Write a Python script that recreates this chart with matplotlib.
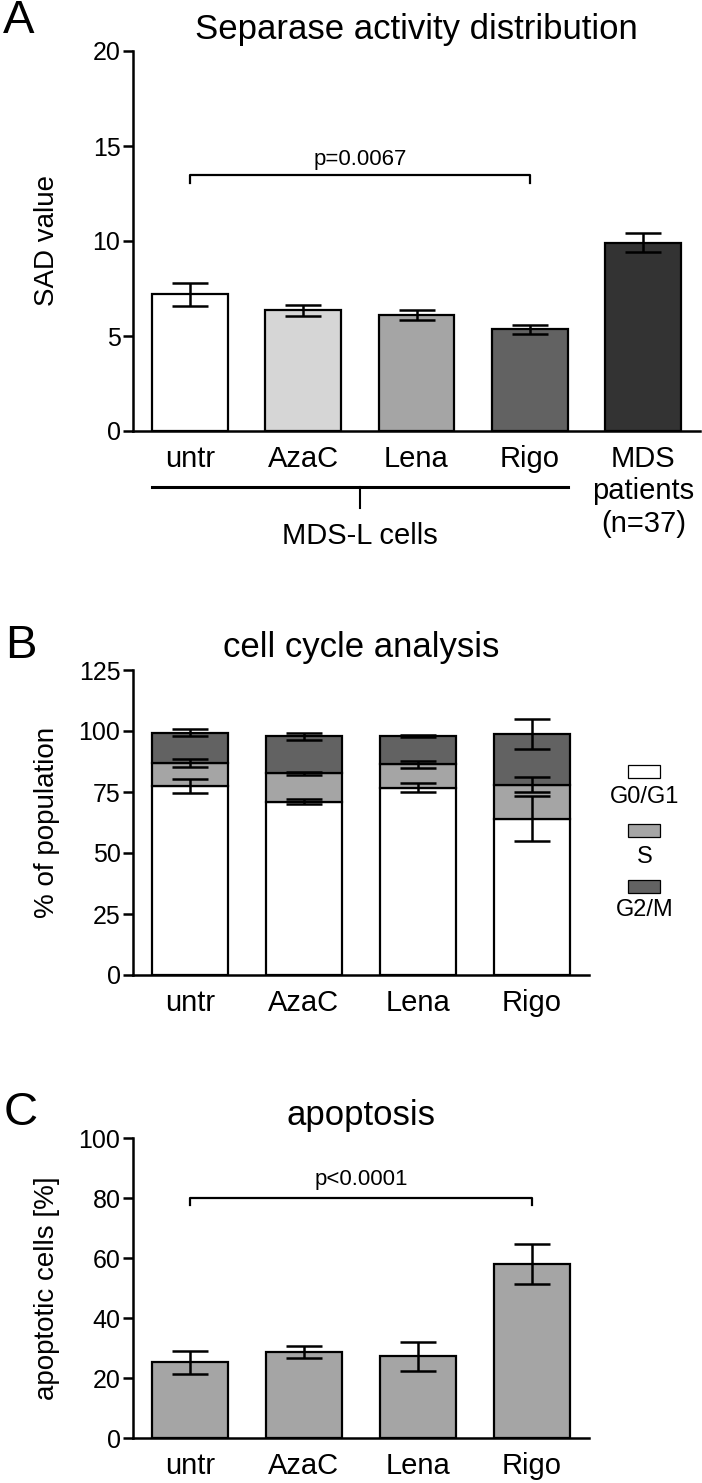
import matplotlib
matplotlib.use("Agg")
import matplotlib.pyplot as plt
from matplotlib.patches import Rectangle
from matplotlib.lines import Line2D
import matplotlib.transforms as mtransforms

plt.rcParams['font.family'] = ['Liberation Sans', 'DejaVu Sans']

# ---------------- data ----------------
sad_labels = ["untr", "AzaC", "Lena", "Rigo", "MDS\npatients\n(n=37)"]
sad_values = [7.2, 6.35, 6.1, 5.35, 9.9]
sad_errors = [0.6, 0.3, 0.27, 0.25, 0.5]
sad_colors = ["#ffffff", "#d6d6d6", "#a5a5a5", "#626262", "#333333"]

cc_labels = ["untr", "AzaC", "Lena", "Rigo"]
cc_g0g1 = [77.5, 71.1, 76.8, 64.1]
cc_s = [9.4, 11.5, 9.5, 13.9]
cc_g2m = [12.4, 15.2, 11.7, 20.7]
cc_g0g1_err = [2.9, 1.2, 1.8, 9.2]
cc_s_err = [1.8, 0.6, 1.4, 3.0]
cc_g2m_err = [1.5, 1.4, 0.3, 6.1]
cc_phases = ["G0/G1", "S", "G2/M"]
cc_colors = ["#ffffff", "#a5a5a5", "#626262"]

apo_labels = ["untr", "AzaC", "Lena", "Rigo"]
apo_values = [25.2, 28.6, 27.2, 58.1]
apo_errors = [3.8, 2.0, 4.7, 6.7]
apo_color = "#a5a5a5"

# ---------------- layout ----------------
W, H = 702, 1483
fig = plt.figure(figsize=(W / 100, H / 100), dpi=100)


def rect(l, t, r, b):
    return [l / W, 1 - b / H, (r - l) / W, (b - t) / H]


axA = fig.add_axes(rect(133, 51, 700, 431))
axB = fig.add_axes(rect(133, 670, 589, 975))
axC = fig.add_axes(rect(133, 1138, 589, 1438))

LW = 1.8
BAR_W = 0.67
ERR_KW = dict(fmt="none", ecolor="black", elinewidth=1.8, capsize=13, capthick=1.8, zorder=5)


def style(ax, ymax, yticks, ylabel, title, n, label_x):
    ax.set_xlim(-0.5, n - 0.5)
    ax.set_ylim(0, ymax)
    ax.set_yticks(yticks)
    for s in ("top", "right"):
        ax.spines[s].set_visible(False)
    for s in ("left", "bottom"):
        ax.spines[s].set_linewidth(LW)
    ax.tick_params(axis="y", length=7, width=LW, labelsize=18, pad=2)
    ax.tick_params(axis="x", length=0, labelsize=21, pad=10)
    ax.set_ylabel(ylabel, fontsize=20)
    ax.yaxis.set_label_coords(label_x, 0.5)
    ax.yaxis.label.set_va("center")
    ax.set_title(title, fontsize=25, pad=9)


# ---- Panel A ----
xa = list(range(len(sad_values)))
axA.bar(xa, sad_values, width=BAR_W, color=sad_colors, edgecolor="black", linewidth=1.6, zorder=3)
axA.errorbar(xa, sad_values, yerr=sad_errors, **ERR_KW)
axA.set_xticks(xa)
axA.set_xticklabels(sad_labels)
for lab in axA.get_xticklabels():
    lab.set_linespacing(1.2)
style(axA, 20, [0, 5, 10, 15, 20], "SAD value", "Separase activity distribution", len(sad_values), -0.152)
axA.plot([0, 0, 3, 3], [13.05, 13.45, 13.45, 13.05], color="black", lw=1.6, zorder=4)
axA.text(1.5, 14.3, "p=0.0067", ha="center", va="center", fontsize=16)

# group line under MDS-L cells
trA = mtransforms.blended_transform_factory(axA.transData, axA.transAxes)


def ya(px):
    return -(px - 431) / 380.0


axA.add_line(Line2D([0 - BAR_W / 2, 3 + BAR_W / 2], [ya(487), ya(487)], color="black", lw=2.2,
                    transform=trA, clip_on=False))
axA.add_line(Line2D([1.5, 1.5], [ya(487), ya(508)], color="black", lw=1.5, transform=trA, clip_on=False))
axA.text(1.5, ya(536), "MDS-L cells", transform=trA, ha="center", va="center", fontsize=21)

# ---- Panel B ----
xb = list(range(len(cc_g0g1)))
bottom_s = cc_g0g1
bottom_g2m = [a + b for a, b in zip(cc_g0g1, cc_s)]
top_g2m = [a + b for a, b in zip(bottom_g2m, cc_g2m)]
axB.bar(xb, cc_g0g1, width=BAR_W, color=cc_colors[0], edgecolor="black", linewidth=1.6, zorder=3)
axB.bar(xb, cc_s, bottom=bottom_s, width=BAR_W, color=cc_colors[1], edgecolor="black", linewidth=1.6, zorder=3)
axB.bar(xb, cc_g2m, bottom=bottom_g2m, width=BAR_W, color=cc_colors[2], edgecolor="black", linewidth=1.6, zorder=3)
axB.errorbar(xb, cc_g0g1, yerr=cc_g0g1_err, **ERR_KW)
axB.errorbar(xb, bottom_g2m, yerr=cc_s_err, **ERR_KW)
axB.errorbar(xb, top_g2m, yerr=cc_g2m_err, **ERR_KW)
axB.set_xticks(xb)
axB.set_xticklabels(cc_labels)
style(axB, 125, [0, 25, 50, 75, 100, 125], "% of population", "cell cycle analysis", len(cc_g0g1), -0.189)

# legend (squares with labels underneath)
leg_sq_top = [765, 824, 880]
leg_lab_y = [797, 857, 910]
for phase, col, sq_t, lab_y in zip(cc_phases, cc_colors, leg_sq_top, leg_lab_y):
    fig.add_artist(Rectangle((628 / W, 1 - (sq_t + 13) / H), 32 / W, 13 / H, transform=fig.transFigure,
                             facecolor=col, edgecolor="black", linewidth=0.9))
    fig.text(645 / W, 1 - lab_y / H, phase, ha="center", va="center", fontsize=17)

# ---- Panel C ----
xc = list(range(len(apo_values)))
axC.bar(xc, apo_values, width=BAR_W, color=apo_color, edgecolor="black", linewidth=1.6, zorder=3)
axC.errorbar(xc, apo_values, yerr=apo_errors, **ERR_KW)
axC.set_xticks(xc)
axC.set_xticklabels(apo_labels)
style(axC, 100, [0, 20, 40, 60, 80, 100], "apoptotic cells [%]", "apoptosis", len(apo_values), -0.189)
axC.plot([0, 0, 3, 3], [77.6, 80.0, 80.0, 77.6], color="black", lw=1.6, zorder=4)
axC.text(1.5, 86.0, "p<0.0001", ha="center", va="center", fontsize=16)

# panel letters
fig.text(19 / W, 1 - 21 / H, "A", ha="center", va="center", fontsize=34)
fig.text(21 / W, 1 - 646 / H, "B", ha="center", va="center", fontsize=34)
fig.text(21 / W, 1 - 1113 / H, "C", ha="center", va="center", fontsize=34)

fig.savefig("out.png", dpi=100)
